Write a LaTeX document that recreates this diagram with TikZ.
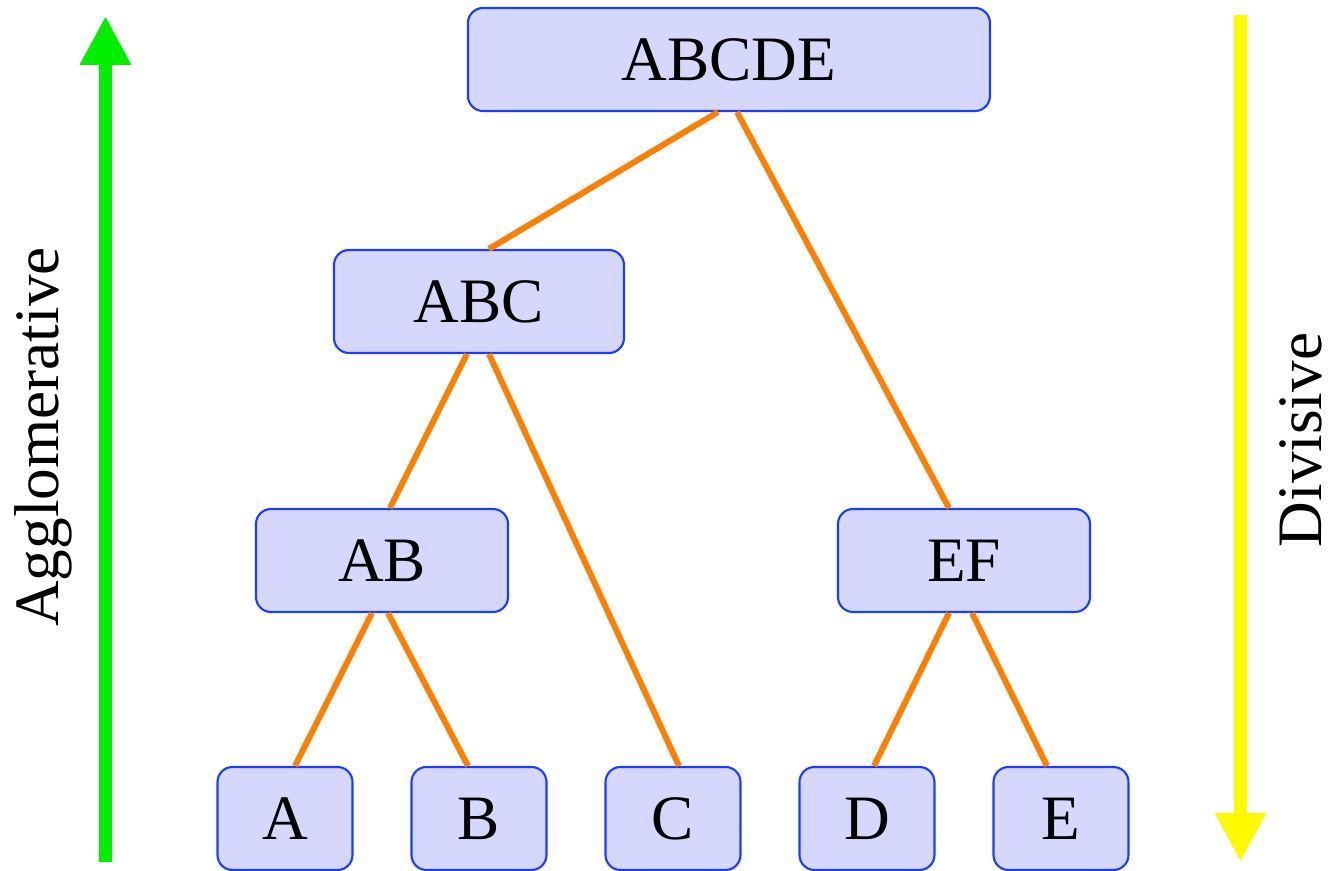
\documentclass[tikz,border=0pt]{standalone}
\usepackage{fontspec}
\setmainfont{Liberation Serif}
\usetikzlibrary{arrows.meta}
\definecolor{clusterfill}{RGB}{213,216,252}
\definecolor{clusterline}{RGB}{30,60,255}
\definecolor{linkorange}{RGB}{255,128,0}
\definecolor{upgreen}{RGB}{0,238,0}
\definecolor{downyellow}{RGB}{255,250,0}
\tikzset{
  cluster/.style={draw=clusterline, fill=clusterfill, line width=1.2pt,
    rounded corners=0.3cm, minimum height=2.06cm, inner sep=0pt,
    font=\fontsize{36}{40}\selectfont},
  link/.style={draw=linkorange, line width=3.4pt},
  bigarrow/.style={line width=0.26cm, -{Triangle[width=0.96cm,length=0.98cm]}},
  sidelabel/.style={rotate=90, inner sep=0pt, font=\fontsize{36}{40}\selectfont}
}
\begin{document}
\begin{tikzpicture}
      \useasboundingbox (0,0) rectangle (26.64,17.4);
      \draw
        (14.58,16.21) node[cluster, minimum width=10.44cm] (abcde){ABCDE}
        (9.58,11.37) node[cluster, minimum width=5.8cm] (abc){ABC}
        (7.64,6.19) node[cluster, minimum width=5.04cm] (ab){AB}
        (19.28,6.19) node[cluster, minimum width=5.04cm] (ef){EF}
        (5.70,1.03) node[cluster, minimum width=2.7cm] (a){A}
        (9.58,1.03) node[cluster, minimum width=2.7cm] (b){B}
        (13.46,1.03) node[cluster, minimum width=2.7cm] (c){C}
        (17.34,1.03) node[cluster, minimum width=2.7cm] (d){D}
        (21.22,1.03) node[cluster, minimum width=2.7cm] (e){E};
      \begin{scope}[link]
        \draw ([xshift=-0.22cm]abcde.south) to ([xshift=0.2cm]abc.north);
        \draw ([xshift=0.16cm]abcde.south) to ([xshift=-0.3cm]ef.north);
        \draw ([xshift=-0.24cm]abc.south) to ([xshift=0.16cm]ab.north);
        \draw ([xshift=0.2cm]abc.south) to ([xshift=0.12cm]c.north);
        \draw ([xshift=-0.2cm]ab.south) to ([xshift=0.2cm]a.north);
        \draw ([xshift=0.12cm]ab.south) to ([xshift=-0.22cm]b.north);
        \draw ([xshift=-0.3cm]ef.south) to ([xshift=0.14cm]d.north);
        \draw ([xshift=0.16cm]ef.south) to ([xshift=-0.28cm]e.north);
      \end{scope}
      % merge upwards, split downwards
      \coordinate (aggfoot) at (2.11,0.16);
      \coordinate (agghead) at (2.11,17.08);
      \coordinate (divfoot) at (24.81,17.1);
      \coordinate (divhead) at (24.81,0.16);
      \draw[bigarrow, upgreen] (aggfoot) to (agghead);
      \draw[bigarrow, downyellow] (divfoot) to (divhead);
      \node[sidelabel] (agg) at (0.86,8.66) {Agglomerative};
      \node[sidelabel] (div) at (26.02,8.6) {Divisive};
    \end{tikzpicture}
\end{document}
